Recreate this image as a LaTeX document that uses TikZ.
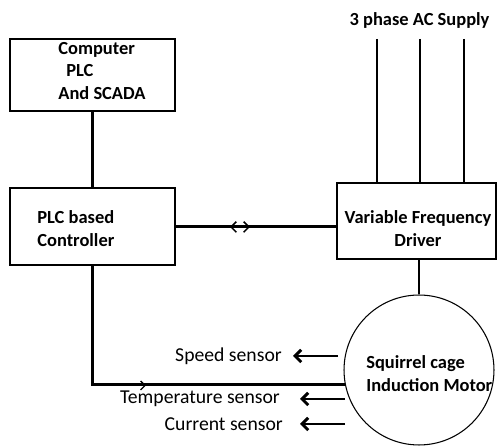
\documentclass[tikz,border=0pt]{standalone}
\usepackage{fontspec}
\setmainfont{Carlito}
\usetikzlibrary{arrows.meta}

\begin{document}
\begin{tikzpicture}[x=0.02cm,y=-0.02cm,block/.style={draw,line width=0.75pt,inner sep=0},line/.style={line width=1.25pt},title/.style={font=\bfseries\fontsize{10.5}{13}\selectfont,align=left,inner sep=0},sensor/.style={font=\fontsize{11.2}{13}\selectfont,anchor=east,inner ysep=0},feed/.style={line width=1.7pt,-{Straight Barb[length=3.5pt,width=7pt]}}]
 \useasboundingbox (0,0) rectangle (497,448);
 \node[block,minimum width=3.3cm,minimum height=1.44cm] (comp) at (92.5,75) {};
 \node[title,anchor=west] (comptext) at (58,71) {Computer\\\hspace{4.5pt}PLC\\And SCADA};
 \node[block,minimum width=3.3cm,minimum height=1.54cm] (plc) at (92.5,226.5) {};
 \node[title,anchor=west] (plctext) at (37,228.5) {PLC based\\Controller};
 \node[block,minimum width=3.18cm,minimum height=1.52cm] (vfd) at (416.5,221) {};
 \node[title,align=center] (vfdtext) at (418,228.5) {Variable Frequency\\Driver};
 \node[title] (supply) at (419.5,20) {3 phase AC Supply};
 \node[draw,circle,line width=0.6pt,minimum size=3cm,inner sep=0] (motor) at (419,370) {};
 \node[title,anchor=west] (motortext) at (366,374) {Squirrel cage\\Induction Motor};
 \foreach \x in {377,420,464}{\coordinate (s\x) at (\x,39); \draw[line] (s\x) -- (s\x |- vfd.north);}
 \draw[line] (comp) -- (plc);
 \draw[line] (plc.east) -- (plc.east -| vfd.west);
 \coordinate (tipl) at (230,227); \coordinate (tipr) at (250,227);
 \draw[line width=0.9pt,{Straight Barb[length=3pt,width=6pt]}-{Straight Barb[length=3pt,width=6pt]}] (tipl) -- (tipr);
 \draw[line] (motor.north |- vfd.south) -- (motor.north);
 \draw[line] (plc.south) |- (motor.191);
 \coordinate (fa) at (128,385.5); \coordinate (fb) at (146,385.5);
 \draw[line width=0.8pt,-{Straight Barb[length=2.5pt,width=5pt]}] (fa) -- (fb);
 \node[sensor,inner xsep=6.2pt] (speed) at (293,356) {Speed sensor};
 \node[sensor,inner xsep=11.3pt] (temp) at (300,399) {Temperature sensor};
 \node[sensor,inner xsep=9.6pt] (curr) at (300,424) {Current sensor};
 \coordinate (ms) at (338,356); \coordinate (mt) at (345,399); \coordinate (mc) at (345,424);
 \draw[feed] (ms) -- (speed.east);
 \draw[feed] (mt) -- (temp.east);
 \draw[feed] (mc) -- (curr.east);
\end{tikzpicture}
\end{document}
